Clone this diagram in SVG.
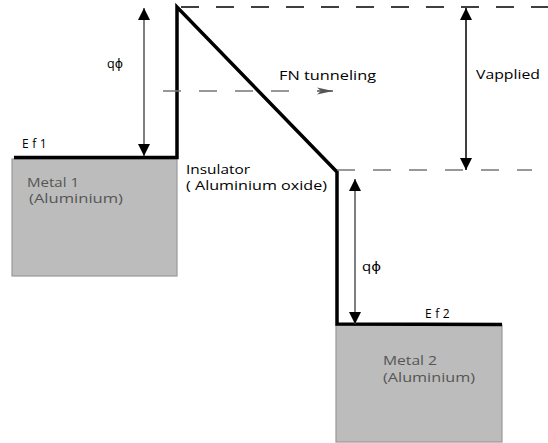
<svg xmlns="http://www.w3.org/2000/svg" width="548" height="443" viewBox="0 0 548 443">
<defs>
<style>
text{font-family:"Open Sans","DejaVu Sans",sans-serif;fill:#000}
.metal{fill:#bcbcbc;stroke:#999;stroke-width:1.2}
.mlabel{fill:#555;font-size:12px}
.band{fill:none;stroke:#000;stroke-width:3.5;stroke-linejoin:miter}
.dashk{stroke:#000;stroke-width:1.5;stroke-dasharray:18 17;fill:none}
.dashg{stroke:#777;stroke-width:1.5;stroke-dasharray:18 18;fill:none}
.dim{stroke:#555;stroke-width:1.5;fill:none}
.dimk{stroke:#000;stroke-width:1.5;fill:none}
.ef{font-size:12px;letter-spacing:3.5px}
</style>
<marker id="ah2" viewBox="0 0 10 10" refX="10" refY="5" markerWidth="14" markerHeight="12" markerUnits="userSpaceOnUse" orient="auto-start-reverse">
<path d="M0,0 L10,5 L0,10 z" fill="#000"/>
</marker>
<marker id="fn" viewBox="0 0 16 10" refX="16" refY="5" markerWidth="16" markerHeight="10" markerUnits="userSpaceOnUse" orient="auto">
<path d="M0,1.5 L16,5 L0,8.5 L4,5 z" fill="#555"/>
</marker>
</defs>

<g id="metal1">
<rect class="metal" x="12" y="159" width="165" height="117"/>
<text class="mlabel" x="27" y="187" textLength="52" lengthAdjust="spacingAndGlyphs">Metal 1</text>
<text class="mlabel" x="29" y="203" textLength="94" lengthAdjust="spacingAndGlyphs">(Aluminium)</text>
</g>

<g id="metal2">
<rect class="metal" x="336" y="325" width="166" height="117"/>
<text class="mlabel" x="383" y="365" textLength="54" lengthAdjust="spacingAndGlyphs">Metal 2</text>
<text class="mlabel" x="383" y="382" textLength="92" lengthAdjust="spacingAndGlyphs">(Aluminium)</text>
</g>

<g id="band">
<polyline class="band" points="14,157.5 177,157.5 177,7 337,172 337,324 502,324.5"/>
</g>

<g id="insulator">
<text x="186" y="174" font-size="12" textLength="64" lengthAdjust="spacingAndGlyphs">Insulator</text>
<text x="186" y="190" font-size="12" textLength="141" lengthAdjust="spacingAndGlyphs">( Aluminium oxide)</text>
</g>

<g id="connectors">
<line class="dashk" x1="181" y1="7" x2="548" y2="7"/>
<line class="dashg" x1="163" y1="91" x2="300" y2="91"/>
<line x1="317" y1="91" x2="333" y2="91" stroke="#555" stroke-width="1.5" marker-end="url(#fn)"/>
<line class="dashg" x1="337" y1="170" x2="532" y2="170" stroke-dasharray="8 25 18 17 18 17 18 17 18 17 18 17"/>
<line class="dim" x1="144" y1="8" x2="144" y2="156" marker-start="url(#ah2)" marker-end="url(#ah2)"/>
<line class="dimk" x1="466" y1="8" x2="466" y2="170" marker-start="url(#ah2)" marker-end="url(#ah2)"/>
<line class="dim" x1="355" y1="179" x2="355" y2="324" marker-start="url(#ah2)" marker-end="url(#ah2)"/>
</g>

<g id="labels">
<text x="107" y="68" font-size="13" textLength="16" lengthAdjust="spacingAndGlyphs">qϕ</text>
<text x="362" y="271" font-size="13" textLength="19" lengthAdjust="spacingAndGlyphs">qϕ</text>
<text x="279" y="80" font-size="12.5" textLength="97" lengthAdjust="spacingAndGlyphs">FN tunneling</text>
<text x="476" y="79" font-size="12.5" textLength="64" lengthAdjust="spacingAndGlyphs">Vapplied</text>
<text class="ef" x="22" y="148">Ef1</text>
<text class="ef" x="425" y="318">Ef2</text>
</g>
</svg>
